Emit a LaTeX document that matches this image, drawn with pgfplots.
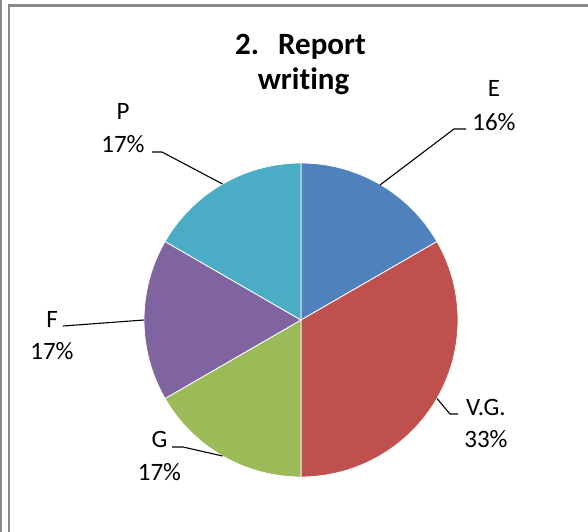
\documentclass[border=0pt]{standalone}
\usepackage{fontspec}
\setmainfont{Carlito}[Ligatures=NoCommon]
\usepackage{pgfplots}
\pgfplotsset{compat=1.18}
\definecolor{cE}{HTML}{4F81BD}
\definecolor{cVG}{HTML}{C0504D}
\definecolor{cG}{HTML}{9BBB59}
\definecolor{cF}{HTML}{8064A2}
\definecolor{cP}{HTML}{4BACC6}
\definecolor{framegray}{HTML}{898989}
% shares of the pie (E, V.G., G, F, P) = 1 : 2 : 1 : 1 : 1  -> 60, 120, 60, 60, 60 degrees
\newcommand{\pieslice}[3]{%
  \addplot[fill=#3, draw=white, line width=0.8bp, domain=#1:#2, samples=80, variable=\t]
    ({301+157*cos(\t)},{212+157*sin(\t)}) -- (axis cs:301,212) -- cycle;}
\newcommand{\lab}{\fontsize{25bp}{30bp}\selectfont}
\begin{document}
\begin{tikzpicture}
\useasboundingbox (0,0) rectangle (588bp,532bp);
\begin{axis}[at={(0,0)}, anchor=south west, x=1bp, y=1bp,
  xmin=0, xmax=588, ymin=0, ymax=532, hide axis, clip=false]
% frame
\addplot[framegray, line width=2.4bp] coordinates {(1,0) (1,532)};
\addplot[framegray, line width=2.4bp] coordinates {(9,0) (9,526.5) (588,526.5)};
% slices
\pieslice{30}{90}{cE}
\pieslice{-90}{30}{cVG}
\pieslice{-150}{-90}{cG}
\pieslice{-210}{-150}{cF}
\pieslice{90}{150}{cP}
% leader lines
\addplot[black, line width=1.1bp] coordinates {(380,347) (454,403) (466,403)};
\addplot[black, line width=1.1bp] coordinates {(152,380) (162,380) (222.5,348)};
\addplot[black, line width=1.1bp] coordinates {(63,206) (144,212)};
\addplot[black, line width=1.1bp] coordinates {(172,85) (183,85) (222.5,76)};
\addplot[black, line width=1.1bp] coordinates {(437,133.5) (450,118) (458,118)};
% labels
\node[anchor=base, font=\lab] at (axis cs:494,435) {E};
\node[anchor=base, font=\lab] at (axis cs:494,401) {16\%};
\node[anchor=base, font=\lab] at (axis cs:486,117) {V.G.};
\node[anchor=base, font=\lab] at (axis cs:486,85) {33\%};
\node[anchor=base, font=\lab] at (axis cs:159.5,85) {G};
\node[anchor=base, font=\lab] at (axis cs:159.5,52) {17\%};
\node[anchor=base, font=\lab] at (axis cs:52,205) {F};
\node[anchor=base, font=\lab] at (axis cs:52,173) {17\%};
\node[anchor=base, font=\lab] at (axis cs:123,412) {P};
\node[anchor=base, font=\lab] at (axis cs:123,379.5) {17\%};
% title
\node[anchor=base, font=\bfseries\fontsize{31bp}{36bp}\selectfont] at (axis cs:300.5,477) {2.\hspace{19bp}Report};
\node[anchor=base, font=\bfseries\fontsize{31bp}{36bp}\selectfont] at (axis cs:303.5,442) {writing};
\end{axis}
\end{tikzpicture}
\end{document}
